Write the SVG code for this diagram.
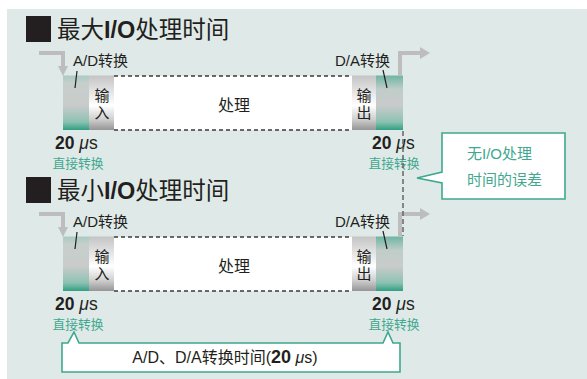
<svg xmlns="http://www.w3.org/2000/svg" width="587" height="379" viewBox="0 0 587 379">
  <style>
    .t{font-family:"Liberation Sans","Noto Sans CJK SC",sans-serif;fill:#231f20}
    .title{font-size:23.5px}
    .b{font-weight:bold}
    .lbl{font-size:15px}
    .v{font-size:15px;writing-mode:vertical-rl;letter-spacing:1.5px}
    .cj{font-family:"Noto Sans CJK SC",sans-serif}
    .us{font-size:17.5px}
    .teal{fill:#3fa88f}
    .sm{font-size:12.8px}
    .arrow{fill:none;stroke:#bdbdbd;stroke-width:4}
    .ahead{fill:#bdbdbd}
    .dash{stroke:#3a3a3a;stroke-width:1.3;stroke-dasharray:4 3;fill:none}
    .callout{fill:#fff;stroke:#3fa88f;stroke-width:1.6}
    .lead{stroke:#231f20;stroke-width:1.2}
  </style>
  <defs>
    <linearGradient id="gAD" x1="0" y1="0" x2="0" y2="1">
      <stop offset="0" stop-color="#a9cbc2"/>
      <stop offset="0.15" stop-color="#c6cfcc"/>
      <stop offset="0.55" stop-color="#c9cbcb"/>
      <stop offset="0.85" stop-color="#8cc2b2"/>
      <stop offset="1" stop-color="#2f9f82"/>
    </linearGradient>
    <linearGradient id="gDA" x1="0" y1="0" x2="0" y2="1">
      <stop offset="0" stop-color="#6fb5a3"/>
      <stop offset="0.25" stop-color="#bfcdc9"/>
      <stop offset="0.55" stop-color="#c9cbcb"/>
      <stop offset="0.85" stop-color="#8cc2b2"/>
      <stop offset="1" stop-color="#2f9f82"/>
    </linearGradient>
    <linearGradient id="gIO" x1="0" y1="0" x2="0" y2="1">
      <stop offset="0" stop-color="#c4c4c4"/>
      <stop offset="0.55" stop-color="#ffffff"/>
      <stop offset="0.8" stop-color="#d0d0d0"/>
      <stop offset="1" stop-color="#959595"/>
    </linearGradient>
  </defs>

  <rect x="7" y="9" width="580" height="370" fill="#dfeae8"/>

  <!-- Section 1 -->
  <g id="title1">
    <rect x="26" y="16" width="25" height="26" fill="#231f20"/>
    <text class="t title" x="57" y="38"><tspan class="cj">最大</tspan><tspan class="b">I/O</tspan><tspan class="cj">处理时间</tspan></text>
  </g>
  <g id="process1">
    <rect x="114" y="76" width="238" height="54" fill="#fff"/>
    <line class="dash" x1="114" y1="76" x2="352" y2="76"/>
    <line class="dash" x1="114" y1="130" x2="352" y2="130"/>
    <text class="t cj" x="234" y="111" font-size="16" text-anchor="middle">处理</text>
  </g>
  <g id="ad1">
    <rect x="63" y="75.5" width="26" height="54.5" fill="url(#gAD)"/>
    <text class="t lbl" x="73" y="66">A/D<tspan class="cj">转换</tspan></text>
    <line class="lead" x1="77" y1="71" x2="75" y2="88"/>
  </g>
  <g id="in1">
    <rect x="89" y="75.5" width="25" height="54.5" fill="url(#gIO)"/>
    <text class="t cj v" x="102" y="88">输入</text>
  </g>
  <g id="out1">
    <rect x="352" y="75.5" width="24" height="54.5" fill="url(#gIO)"/>
    <text class="t cj v" x="364" y="88">输出</text>
  </g>
  <g id="da1">
    <rect x="376" y="75.5" width="27" height="54.5" fill="url(#gDA)"/>
    <text class="t lbl" x="335" y="66">D/A<tspan class="cj">转换</tspan></text>
    <line class="lead" x1="383" y1="70" x2="387" y2="88"/>
  </g>
  <g id="time1l">
    <text class="t us" x="55" y="149"><tspan class="b">20</tspan> <tspan font-style="italic">μ</tspan>s</text>
    <text class="t cj sm teal" x="78" y="168" text-anchor="middle">直接转换</text>
  </g>
  <g id="time1r">
    <text class="t us" x="372" y="149"><tspan class="b">20</tspan> <tspan font-style="italic">μ</tspan>s</text>
    <text class="t cj sm teal" x="394" y="168" text-anchor="middle">直接转换</text>
  </g>

  <!-- Section 2 -->
  <g id="title2">
    <rect x="26" y="177" width="25" height="26" fill="#231f20"/>
    <text class="t title" x="57" y="199"><tspan class="cj">最小</tspan><tspan class="b">I/O</tspan><tspan class="cj">处理时间</tspan></text>
  </g>
  <g id="process2">
    <rect x="114" y="237" width="238" height="54" fill="#fff"/>
    <line class="dash" x1="114" y1="237" x2="352" y2="237"/>
    <line class="dash" x1="114" y1="291" x2="352" y2="291"/>
    <text class="t cj" x="234" y="272" font-size="16" text-anchor="middle">处理</text>
  </g>
  <g id="ad2">
    <rect x="63" y="236.5" width="26" height="54.5" fill="url(#gAD)"/>
    <text class="t lbl" x="73" y="227">A/D<tspan class="cj">转换</tspan></text>
    <line class="lead" x1="77" y1="232" x2="75" y2="249"/>
  </g>
  <g id="in2">
    <rect x="89" y="236.5" width="25" height="54.5" fill="url(#gIO)"/>
    <text class="t cj v" x="102" y="249">输入</text>
  </g>
  <g id="out2">
    <rect x="352" y="236.5" width="24" height="54.5" fill="url(#gIO)"/>
    <text class="t cj v" x="364" y="249">输出</text>
  </g>
  <g id="da2">
    <rect x="376" y="236.5" width="27" height="54.5" fill="url(#gDA)"/>
    <text class="t lbl" x="335" y="227">D/A<tspan class="cj">转换</tspan></text>
    <line class="lead" x1="383" y1="231" x2="387" y2="249"/>
  </g>
  <g id="time2l">
    <text class="t us" x="55" y="310"><tspan class="b">20</tspan> <tspan font-style="italic">μ</tspan>s</text>
    <text class="t cj sm teal" x="78" y="329" text-anchor="middle">直接转换</text>
  </g>
  <g id="time2r">
    <text class="t us" x="372" y="310"><tspan class="b">20</tspan> <tspan font-style="italic">μ</tspan>s</text>
    <text class="t cj sm teal" x="394" y="329" text-anchor="middle">直接转换</text>
  </g>

  <!-- Callouts -->
  <g id="note-error">
    <path class="callout" d="M442,133 H565 V199 H442 V183 L417,178 L442,172 Z"/>
    <text class="t cj teal" x="467" y="159" font-size="15">无<tspan font-family="Liberation Sans">I/O</tspan>处理</text>
    <text class="t cj teal" x="467" y="185" font-size="15">时间的误差</text>
  </g>
  <g id="note-conv">
    <path class="callout" d="M62,343 H68 L74,332 L79,343 H383 L388,332 L393,343 H400 V372 H62 Z"/>
    <text class="t" x="225" y="363" font-size="16" text-anchor="middle">A/D<tspan class="cj">、</tspan>D/A<tspan class="cj">转换时间</tspan>(<tspan class="b" font-size="18">20</tspan> <tspan font-style="italic">μ</tspan>s)</text>
  </g>

  <!-- Connectors -->
  <g id="connectors">
    <path class="arrow" d="M39,53 H63 V67"/>
    <polygon class="ahead" points="58,66 68,66 63,76"/>
    <path class="arrow" d="M400,75.5 V53 H421"/>
    <polygon class="ahead" points="420,47 430,53 420,59"/>
    <path class="arrow" d="M39,214 H63 V228"/>
    <polygon class="ahead" points="58,227 68,227 63,237"/>
    <path class="arrow" d="M400,236.5 V214 H421"/>
    <polygon class="ahead" points="420,208 430,214 420,220"/>
    <line x1="403" y1="131" x2="403" y2="236" stroke="#666" stroke-width="1.5" stroke-dasharray="5 3"/>
  </g>
</svg>
